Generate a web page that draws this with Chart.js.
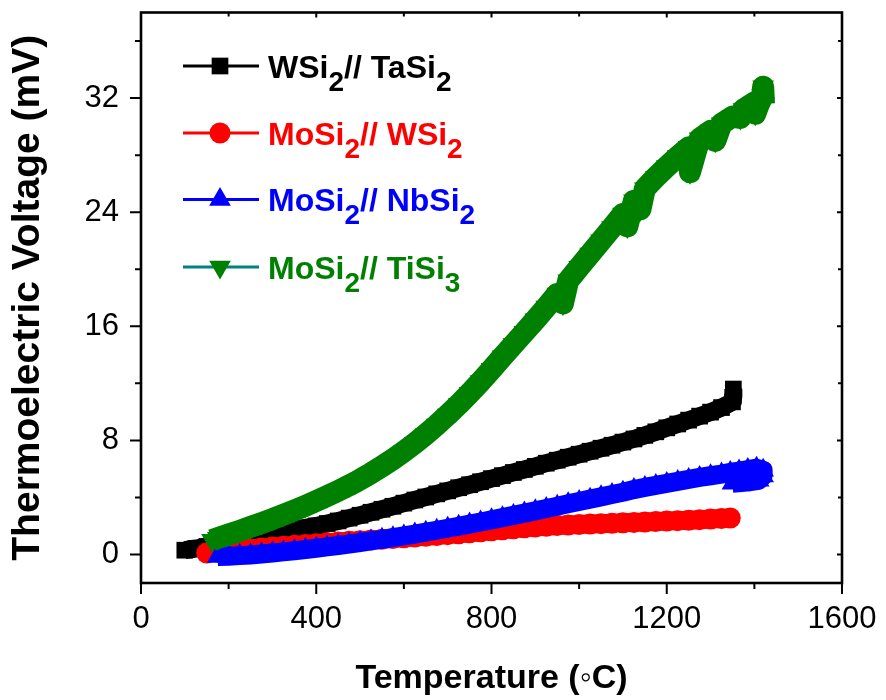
<!DOCTYPE html>
<html><head><meta charset="utf-8">
<script src="https://cdn.jsdelivr.net/npm/chart.js@4.4.1/dist/chart.umd.min.js"></script>
<style>html,body{margin:0;padding:0;background:#fff}canvas{display:block}</style>
</head><body>
<canvas id="c" width="886" height="700"></canvas>
<script>
// ---------- DATA ----------
const seriesNames = [
  [["WSi",0],["2",1],["// TaSi",0],["2",1]],
  [["MoSi",0],["2",1],["// WSi",0],["2",1]],
  [["MoSi",0],["2",1],["// NbSi",0],["2",1]],
  [["MoSi",0],["2",1],["// TiSi",0],["3",1]]
];
const xTickValues = [0,200,400,600,800,1000,1200,1400,1600];
const xTickLabels = ["0","","400","","800","","1200","","1600"];
const yTickValues = [0,4,8,12,16,20,24,28,32,36];
const yTickLabels = ["0","","8","","16","","24","","32",""];

const tempWT = [100,125,150,175,200,225,250,275,300,325,350,375,400,425,450,475,500,525,550,575,600,625,650,675,700,725,750,775,800,825,850,875,900,925,950,975,1000,1025,1050,1075,1100,1125,1150,1175,1200,1225,1250,1275,1300,1325,1350,1352,1352];
const voltWT = [0.30,0.42,0.56,0.70,0.85,1.00,1.15,1.30,1.45,1.60,1.72,1.86,2.00,2.17,2.35,2.55,2.75,2.96,3.17,3.38,3.60,3.82,4.03,4.25,4.46,4.68,4.89,5.10,5.32,5.53,5.75,5.96,6.18,6.40,6.61,6.82,7.03,7.24,7.45,7.66,7.88,8.10,8.35,8.60,8.88,9.15,9.42,9.70,9.98,10.30,10.70,11.10,11.60];

const tempMW = [150,175,200,225,250,275,300,325,350,375,400,425,450,475,500,525,550,575,600,625,650,675,700,725,750,775,800,825,850,875,900,925,950,975,1000,1025,1050,1075,1100,1125,1150,1175,1200,1225,1250,1275,1300,1325,1345];
const voltMW = [0.10,0.17,0.24,0.31,0.38,0.45,0.52,0.58,0.64,0.70,0.76,0.82,0.87,0.92,0.97,1.02,1.07,1.12,1.17,1.22,1.28,1.33,1.39,1.45,1.52,1.59,1.66,1.73,1.80,1.87,1.93,1.98,2.03,2.07,2.10,2.13,2.16,2.19,2.22,2.25,2.28,2.31,2.34,2.37,2.40,2.44,2.48,2.52,2.56];

const tempMN = [175,200,225,250,275,300,325,350,375,400,425,450,475,500,525,550,575,600,625,650,675,700,725,750,775,800,825,850,875,900,925,950,975,1000,1025,1050,1075,1100,1125,1150,1175,1200,1225,1250,1275,1300,1325,1345,1365,1385,1405,1420,1420,1410,1390,1370,1350];
const voltMN = [-0.15,-0.12,-0.08,-0.03,0.03,0.10,0.18,0.26,0.35,0.44,0.53,0.63,0.73,0.84,0.95,1.06,1.18,1.30,1.43,1.56,1.70,1.84,1.98,2.13,2.28,2.43,2.58,2.74,2.90,3.06,3.22,3.38,3.55,3.72,3.88,4.04,4.20,4.36,4.55,4.70,4.84,4.98,5.12,5.26,5.40,5.52,5.64,5.75,5.85,5.95,6.05,5.90,5.50,5.20,5.10,5.05,5.00];

const tempMT = [162,175,200,225,250,275,300,325,350,375,400,425,450,475,500,525,550,575,600,625,650,675,700,725,750,775,800,825,850,875,900,925,950,963,975,1000,1025,1050,1075,1100,1110,1125,1140,1150,1175,1200,1225,1250,1253,1275,1300,1311,1325,1350,1368,1375,1400,1402,1418,1420,1422];
const voltMT = [1.00,1.14,1.40,1.66,1.93,2.20,2.48,2.78,3.09,3.41,3.75,4.10,4.46,4.84,5.25,5.70,6.18,6.68,7.22,7.80,8.42,9.08,9.78,10.52,11.30,12.12,12.98,13.86,14.72,15.58,16.45,17.35,18.27,17.60,19.20,20.13,21.07,22.00,22.93,23.88,23.00,24.80,24.20,25.65,26.45,27.20,27.90,28.55,26.80,29.15,29.70,29.00,30.20,30.70,30.60,31.20,31.70,30.90,32.20,32.80,31.60];

// ---------- STYLE ----------
const FONT = "'Liberation Sans', Arial, Helvetica, sans-serif";
const seriesStyle = [
  {legendLine:'#000000', fill:'#000000', text:'#000000', style:'rect', radius:11.8, rot:0, band:18},
  {legendLine:'#ff0000', fill:'#ff0000', text:'#ff0000', style:'circle', radius:10.5, rot:0, band:19},
  {legendLine:'#0000ff', fill:'#0000ff', text:'#0000ff', style:'triangle', radius:12.5, rot:0, band:19},
  {legendLine:'#008080', fill:'#008000', text:'#008000', style:'triangle', radius:12.5, rot:180, band:22}
];
const toXY = (xs, ys) => xs.map((v,i)=>({x:v, y:ys[i]}));
const seriesData = [toXY(tempWT,voltWT), toXY(tempMW,voltMW), toXY(tempMN,voltMN), toXY(tempMT,voltMT)];
const orders = [3,2,1,0];

const datasets = seriesData.map((d,i)=>({
  label: 'S'+i,
  data: d,
  showLine: true,
  borderColor: seriesStyle[i].fill,
  borderWidth: seriesStyle[i].band,
  borderJoinStyle: 'round',
  borderCapStyle: 'butt',
  backgroundColor: seriesStyle[i].fill,
  pointBackgroundColor: seriesStyle[i].fill,
  pointBorderColor: seriesStyle[i].fill,
  pointBorderWidth: 0,
  pointStyle: seriesStyle[i].style,
  pointRadius: seriesStyle[i].radius,
  pointRotation: seriesStyle[i].rot,
  tension: 0,
  order: orders[i],
  clip: false
}));

function drawMarker(ctx, style, r, rot, x, y){
  ctx.beginPath();
  if (style === 'rect') {
    const s = Math.SQRT1_2 * r;
    ctx.rect(x - s, y - s, 2*s, 2*s);
  } else if (style === 'circle') {
    ctx.arc(x, y, r, 0, Math.PI*2);
  } else {
    const base = (rot === 180) ? Math.PI/2 : -Math.PI/2;
    for (let k=0;k<3;k++){
      const a = base + k*2*Math.PI/3;
      const px = x + r*Math.cos(a), py = y + r*Math.sin(a);
      if (k===0) ctx.moveTo(px,py); else ctx.lineTo(px,py);
    }
    ctx.closePath();
  }
  ctx.fill();
}

const framePlugin = {
  id: 'frame',
  afterDraw(chart){
    const {ctx, chartArea:a, scales:{x, y}} = chart;
    ctx.save();
    ctx.strokeStyle = '#000';
    ctx.lineWidth = 2;
    ctx.beginPath();
    xTickValues.forEach((v,i)=>{
      const px = x.getPixelForValue(v);
      const major = xTickLabels[i] !== '';
      ctx.moveTo(px, a.bottom); ctx.lineTo(px, a.bottom + (major?11:6));
      ctx.moveTo(px, a.top); ctx.lineTo(px, a.top + (major?5:4));
    });
    yTickValues.forEach((v,i)=>{
      const py = y.getPixelForValue(v);
      const major = yTickLabels[i] !== '';
      ctx.moveTo(a.left, py); ctx.lineTo(a.left - (major?11:6), py);
      ctx.moveTo(a.right, py); ctx.lineTo(a.right - (major?5:4), py);
    });
    ctx.stroke();
    ctx.lineWidth = 2.6;
    ctx.strokeRect(a.left, a.top, a.right - a.left, a.bottom - a.top);

    // legend
    const rows = [66, 133, 199.5, 267];
    seriesNames.forEach((segs, i)=>{
      const st = seriesStyle[i];
      const yy = rows[i];
      ctx.strokeStyle = st.legendLine;
      ctx.lineWidth = 2.8;
      ctx.beginPath(); ctx.moveTo(183, yy); ctx.lineTo(259, yy); ctx.stroke();
      ctx.fillStyle = st.fill;
      drawMarker(ctx, st.style, st.radius, st.rot, 220, yy);
      let tx = 268;
      const base = yy + 11.5;
      ctx.fillStyle = st.text;
      ctx.textBaseline = 'alphabetic';
      ctx.textAlign = 'left';
      segs.forEach(([t, sub])=>{
        ctx.font = sub ? "bold 28px " + FONT : "bold 32px " + FONT;
        ctx.fillText(t, tx, sub ? base + 13 : base);
        tx += ctx.measureText(t).width;
      });
    });
    ctx.restore();
  }
};

new Chart(document.getElementById('c'), {
  type: 'scatter',
  data: { datasets },
  plugins: [framePlugin],
  options: {
    responsive: false,
    animation: false,
    devicePixelRatio: 1,
    layout: { padding: { top: 9, right: 44, left: 0, bottom: 0 } },
    plugins: { legend: { display: false }, tooltip: { enabled: false } },
    scales: {
      x: {
        type: 'linear', min: 0, max: 1600,
        afterBuildTicks: s => { s.ticks = xTickValues.map(v=>({value:v})); },
        afterFit: s => { s.height = 117; s.paddingLeft = 0; s.paddingRight = 0; s.paddingTop = 0; s.paddingBottom = 0; },
        grid: { display: false, drawTicks: false },
        border: { display: false },
        ticks: {
          autoSkip: false, maxRotation: 0, padding: 18, color: '#000',
          font: { family: FONT, size: 31 },
          callback: (v, i) => xTickLabels[i]
        },
        title: {
          display: true, text: 'Temperature (\u25E6C)', color: '#000',
          font: { family: FONT, size: 34, weight: 'bold', lineHeight: 1.2 },
          padding: { top: 0, bottom: 1 }
        }
      },
      y: {
        type: 'linear', min: -2, max: 38,
        afterBuildTicks: s => { s.ticks = yTickValues.map(v=>({value:v})); },
        afterFit: s => { s.width = 141; s.paddingTop = 0; s.paddingBottom = 0; s.paddingLeft = 0; s.paddingRight = 0; },
        grid: { display: false, drawTicks: false },
        border: { display: false },
        ticks: {
          autoSkip: false, padding: 22, color: '#000',
          font: { family: FONT, size: 31, lineHeight: 0.5 },
          callback: (v, i) => yTickLabels[i]
        },
        title: {
          display: true, text: 'Thermoelectric Voltage (mV)', color: '#000',
          font: { family: FONT, size: 39, weight: 'bold', lineHeight: 1.2 },
          padding: { top: 5, bottom: 0 }
        }
      }
    }
  }
});
</script>
</body></html>
